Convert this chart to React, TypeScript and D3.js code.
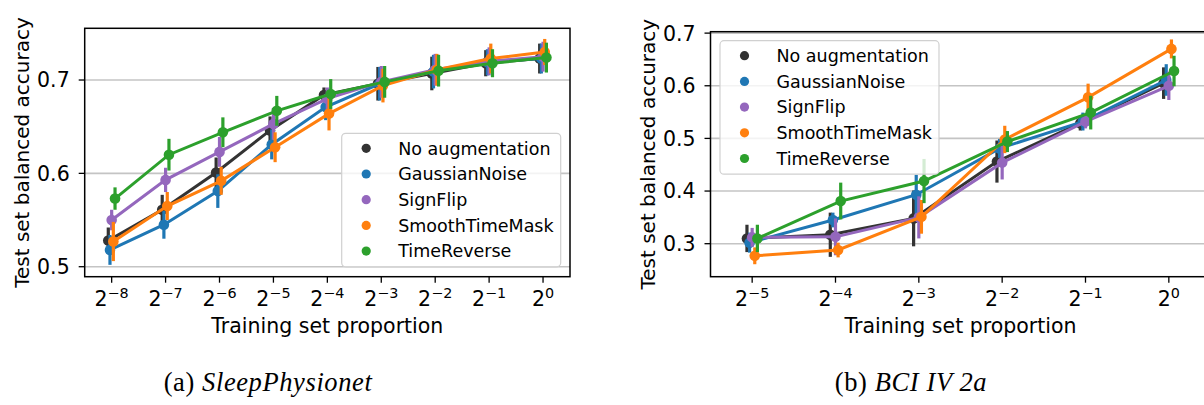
import React from "react";
import * as d3 from "d3";

// series names + colours (seaborn-ish pointplot)
const SERIES = ["No augmentation", "GaussianNoise", "SignFlip", "SmoothTimeMask", "TimeReverse"];
const COLORS = ["#333333", "#1f77b4", "#9467bd", "#ff7f0e", "#2ca02c"];

// (a) SleepPhysionet
const SLEEP_EXP = [-8, -7, -6, -5, -4, -3, -2, -1, 0];
const SLEEP_NOAUG = [0.528, 0.561, 0.601, 0.646, 0.684, 0.696, 0.707, 0.718, 0.723];
const SLEEP_NOAUG_CI = [0.014, 0.016, 0.016, 0.015, 0.008, 0.018, 0.018, 0.014, 0.016];
const SLEEP_GAUSS = [0.518, 0.545, 0.581, 0.631, 0.671, 0.696, 0.709, 0.719, 0.723];
const SLEEP_GAUSS_CI = [0.016, 0.015, 0.018, 0.016, 0.014, 0.018, 0.018, 0.014, 0.016];
const SLEEP_SIGN = [0.55, 0.593, 0.623, 0.653, 0.68, 0.698, 0.711, 0.72, 0.725];
const SLEEP_SIGN_CI = [0.011, 0.013, 0.016, 0.017, 0.012, 0.017, 0.017, 0.015, 0.016];
const SLEEP_STM = [0.527, 0.565, 0.592, 0.628, 0.664, 0.694, 0.711, 0.723, 0.73];
const SLEEP_STM_CI = [0.021, 0.015, 0.015, 0.016, 0.018, 0.018, 0.017, 0.016, 0.014];
const SLEEP_TR = [0.573, 0.62, 0.644, 0.667, 0.685, 0.698, 0.71, 0.718, 0.724];
const SLEEP_TR_CI = [0.012, 0.017, 0.016, 0.016, 0.016, 0.017, 0.017, 0.015, 0.016];
const SLEEP_TICKS = [0.5, 0.6, 0.7];

// (b) BCI IV 2a
const BCI_EXP = [-5, -4, -3, -2, -1, 0];
const BCI_NOAUG = [0.31, 0.317, 0.348, 0.456, 0.529, 0.605];
const BCI_NOAUG_CI = [0.026, 0.042, 0.053, 0.04, 0.014, 0.03];
const BCI_GAUSS = [0.302, 0.345, 0.393, 0.481, 0.532, 0.611];
const BCI_GAUSS_CI = [0.019, 0.014, 0.038, 0.018, 0.017, 0.03];
const BCI_SIGN = [0.312, 0.313, 0.35, 0.454, 0.532, 0.6];
const BCI_SIGN_CI = [0.018, 0.035, 0.04, 0.032, 0.013, 0.027];
const BCI_STM = [0.277, 0.288, 0.351, 0.498, 0.578, 0.67];
const BCI_STM_CI = [0.016, 0.014, 0.032, 0.026, 0.026, 0.018];
const BCI_TR = [0.31, 0.381, 0.419, 0.494, 0.549, 0.628];
const BCI_TR_CI = [0.026, 0.035, 0.042, 0.02, 0.032, 0.029];
const BCI_TICKS = [0.3, 0.4, 0.5, 0.6, 0.7];

const FONT = "DejaVu Sans";
const TICK_SIZE = 20.5;

interface PanelProps {
  exps: number[];
  means: number[][];
  cis: number[][];
  yTicks: number[];
  yDomain: [number, number];
  x0: number;
  x1: number;
  top: number;
  bottom: number;
  legend: { x: number; y: number };
  caption: { x: number; label: string; name: string };
}

const Panel: React.FC<PanelProps> = ({ exps, means, cis, yTicks, yDomain, x0, x1, top, bottom, legend, caption }) => {
  const xScale = d3.scalePoint<number>().domain(exps).range([x0, x1]).padding(0.5);
  const step = xScale.step();
  const yScale = d3.scaleLinear().domain(yDomain).range([bottom, top]);
  const dodge = 0.125;
  const offsets = SERIES.map((_, j) => (-dodge / 2 + (dodge * j) / (SERIES.length - 1)) * step);
  const line = d3.line<[number, number]>().x((d) => d[0]).y((d) => d[1]);
  const midX = (x0 + x1) / 2;
  const midY = (top + bottom) / 2;

  return (
    <g fontFamily={FONT}>
      {/* grid */}
      {yTicks.map((t) => (
        <line key={"g" + t} x1={x0} x2={x1} y1={yScale(t)} y2={yScale(t)} stroke="#c4c4c4" strokeWidth={1.6} />
      ))}
      {/* series, drawn in hue order like seaborn's zorder */}
      {SERIES.map((s, j) => {
        const pts: [number, number][] = exps.map((e, i) => [xScale(e)! + offsets[j], yScale(means[j][i])]);
        return (
          <g key={s}>
            <path d={line(pts)!} fill="none" stroke={COLORS[j]} strokeWidth={3} />
            {exps.map((e, i) => (
              <line
                key={"e" + i}
                x1={pts[i][0]}
                x2={pts[i][0]}
                y1={yScale(means[j][i] - cis[j][i])}
                y2={yScale(means[j][i] + cis[j][i])}
                stroke={COLORS[j]}
                strokeWidth={3.2}
              />
            ))}
            {pts.map((p, i) => (
              <circle key={"p" + i} cx={p[0]} cy={p[1]} r={5.3} fill={COLORS[j]} />
            ))}
          </g>
        );
      })}
      {/* frame */}
      <rect x={x0} y={top} width={x1 - x0} height={bottom - top} fill="none" stroke="#000" strokeWidth={1.5} />
      {/* y axis */}
      {yTicks.map((t) => (
        <g key={"y" + t}>
          <line x1={x0 - 6} x2={x0} y1={yScale(t)} y2={yScale(t)} stroke="#000" strokeWidth={1.3} />
          <text x={x0 - 15} y={yScale(t)} dy="0.36em" textAnchor="end" fontSize={TICK_SIZE} fill="#000">
            {t.toFixed(1)}
          </text>
        </g>
      ))}
      {/* x axis */}
      {exps.map((e) => (
        <g key={"x" + e}>
          <line x1={xScale(e)} x2={xScale(e)} y1={bottom} y2={bottom + 6} stroke="#000" strokeWidth={1.3} />
          <text x={xScale(e)} y={bottom + 29.5} textAnchor="middle" fontSize={TICK_SIZE} fill="#000">
            2
            <tspan fontSize={TICK_SIZE * 0.7} dy={-8.5}>
              {e < 0 ? "\u2212" + Math.abs(e) : String(e)}
            </tspan>
          </text>
        </g>
      ))}
      <text x={midX} y={bottom + 56} textAnchor="middle" fontSize={20.5} fill="#000">
        Training set proportion
      </text>
      <text
        transform={`translate(${x0 - 63},${midY}) rotate(-90)`}
        textAnchor="middle"
        dy="0.36em"
        fontSize={20}
        fill="#000"
      >
        Test set balanced accuracy
      </text>
      {/* legend */}
      <rect x={legend.x} y={legend.y} width={219} height={133.5} rx={4} fill="#fff" fillOpacity={0.8} stroke="#d0d0d0" strokeWidth={1.2} />
      {SERIES.map((s, j) => (
        <g key={"l" + s} transform={`translate(${legend.x}, ${legend.y + 15 + j * 25.7})`}>
          <circle cx={24.5} cy={0} r={4.6} fill={COLORS[j]} />
          <text x={56.5} y={0} dy="0.36em" fontSize={17.5} fill="#000">
            {s}
          </text>
        </g>
      ))}
      {/* caption */}
      <text x={caption.x} y={391} textAnchor="middle" fontFamily="Liberation Serif" fontSize={26.5} letterSpacing={0.6} fill="#000">
        {caption.label} <tspan fontStyle="italic">{caption.name}</tspan>
      </text>
    </g>
  );
};

const App: React.FC = () => {
  return (
    <svg width={1204} height={405} style={{ position: "absolute", left: 0, top: 0, background: "#fff" }}>
      <Panel
        exps={SLEEP_EXP}
        means={[SLEEP_NOAUG, SLEEP_GAUSS, SLEEP_SIGN, SLEEP_STM, SLEEP_TR]}
        cis={[SLEEP_NOAUG_CI, SLEEP_GAUSS_CI, SLEEP_SIGN_CI, SLEEP_STM_CI, SLEEP_TR_CI]}
        yTicks={SLEEP_TICKS}
        yDomain={[0.4893, 0.7554]}
        x0={84.7}
        x1={570}
        top={28.3}
        bottom={276.7}
        legend={{ x: 341.7, y: 133.3 }}
        caption={{ x: 268, label: "(a)", name: "SleepPhysionet" }}
      />
      <Panel
        exps={BCI_EXP}
        means={[BCI_NOAUG, BCI_GAUSS, BCI_SIGN, BCI_STM, BCI_TR]}
        cis={[BCI_NOAUG_CI, BCI_GAUSS_CI, BCI_SIGN_CI, BCI_STM_CI, BCI_TR_CI]}
        yTicks={BCI_TICKS}
        yDomain={[0.2373, 0.7027]}
        x0={710.5}
        x1={1210.5}
        top={31.7}
        bottom={276.7}
        legend={{ x: 720, y: 40.7 }}
        caption={{ x: 911, label: "(b)", name: "BCI IV 2a" }}
      />
    </svg>
  );
};

export default App;
